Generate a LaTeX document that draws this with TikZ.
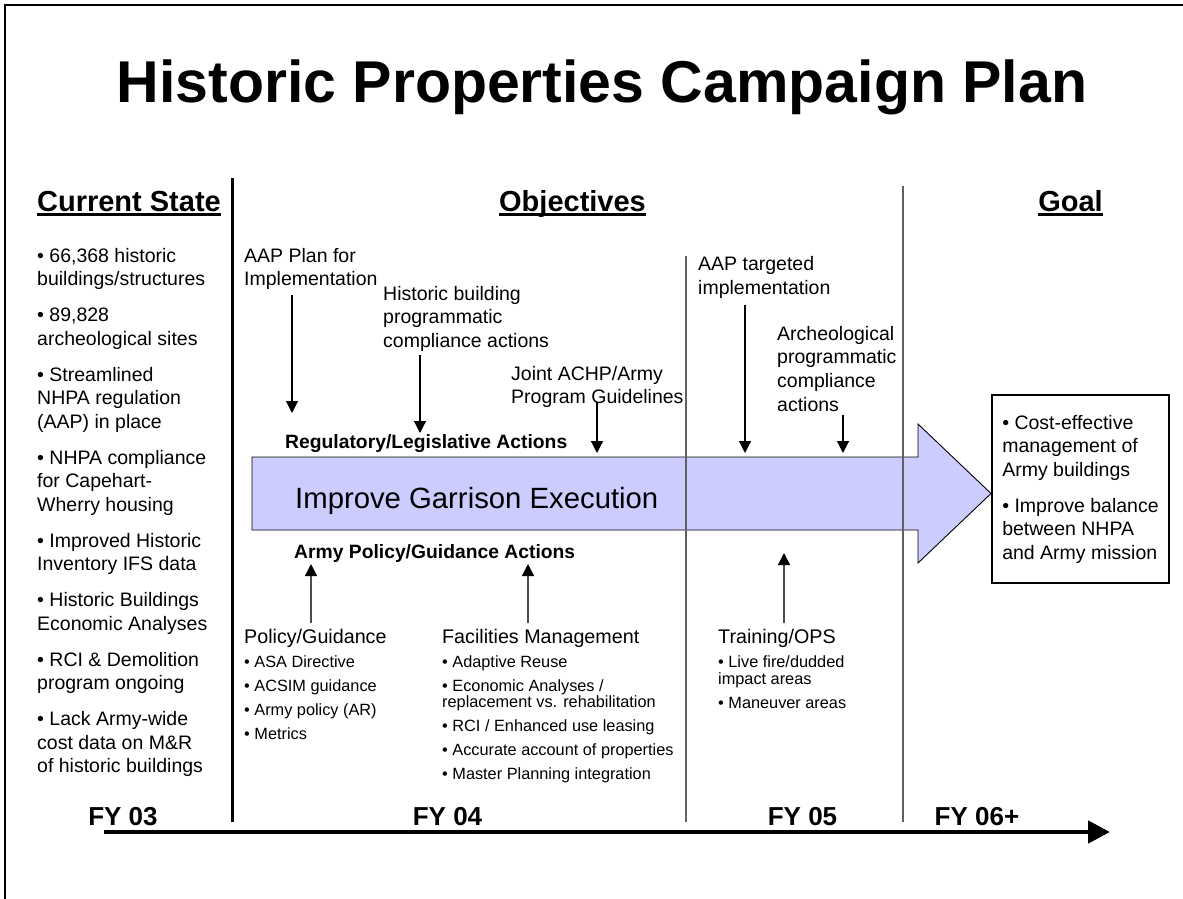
\documentclass[tikz,border=0pt]{standalone}
\usepackage{fontspec}
\setmainfont{Liberation Sans}
\usetikzlibrary{arrows.meta}
\definecolor{arrowfill}{HTML}{CCCCFF}
\definecolor{sepgray}{HTML}{606060}
\newcommand\fs[2]{\fontsize{#1}{#2}\selectfont}
\newcommand\ml[2]{\vtop{\baselineskip=#1\lineskiplimit=-100pt\lineskip=0pt\halign{##\hfil\cr#2\crcr}}}
\newcommand\gap[1]{\noalign{\vskip#1}}
\newcommand\myul[1]{\setbox0\hbox{#1}\hbox to\wd0{\rlap{\vrule width\wd0 height -2pt depth 5pt}\box0}}
\tikzset{
  txt/.style={anchor=base west, inner sep=0pt, font=\fs{19.5}{23.5}},
  smalltxt/.style={anchor=base west, inner sep=0pt, font=\fs{16.3}{24}},
  hdr/.style={anchor=base, inner sep=0pt, font=\bfseries\fs{29}{34}},
  fylbl/.style={anchor=base, inner sep=0pt, font=\bfseries\fs{26}{30}},
  actlbl/.style={anchor=base west, inner sep=0pt, font=\bfseries\fs{19.3}{23}},
  dnarrow/.style={-{Triangle[length=12pt,width=12pt]}, line width=1.2pt},
  uparrow/.style={-{Triangle[length=12pt,width=12pt,color=black]}, line width=1.3pt, draw=black!70},
  sepline/.style={line width=1.5pt, draw=sepgray},
  bigarrow/.style={draw=black, line width=0.9pt, fill=arrowfill},
}
\begin{document}
\begin{tikzpicture}[x=1pt,y=-1pt]
\useasboundingbox (0,0) rectangle (1183,899);
% frame
\draw[line width=2.5pt] (5,899) -- (5,5) -- (1183,5);
% title
\node[anchor=base, inner sep=0pt, font=\bfseries\fs{59}{70}] (title) at (602,102) {Historic Properties Campaign Plan};
% headers
\node[hdr] (hcs) at (129,211) {\myul{Current State}};
\node[hdr] (hobj) at (572.5,211) {\myul{Objectives}};
\node[hdr] (hgoal) at (1070.5,211) {\myul{Goal}};
% current state list
\node[txt] (cs) at (37,262) {\ml{23.5pt}{%
• 66,368 historic\cr buildings/structures\cr\gap{12.5pt}%
• 89,828\cr archeological sites\cr\gap{12.5pt}%
• Streamlined\cr NHPA regulation\cr (AAP) in place\cr\gap{12.5pt}%
• NHPA compliance\cr for Capehart-\cr Wherry housing\cr\gap{12.5pt}%
• Improved Historic\cr Inventory IFS data\cr\gap{12.5pt}%
• Historic Buildings\cr Economic Analyses\cr\gap{12.5pt}%
• RCI \& Demolition\cr program ongoing\cr\gap{12.5pt}%
• Lack Army-wide\cr cost data on M\&R\cr of historic buildings}};
% big arrow
\draw[bigarrow] (252,457) -- (918,457) -- (918,424) -- (991,493.5) -- (918,563) -- (918,530) -- (252,530) -- cycle;
\node[anchor=base west, inner sep=0pt, font=\fs{29.3}{34}] (ige) at (295,508) {Improve Garrison Execution};
% separators
\draw[line width=3pt] (232,178) -- (232,822);
\draw[sepline] (686,256) -- (686,822);
\draw[sepline] (903,186) -- (903,822);
% action labels
\node[actlbl] (reg) at (285,448) {Regulatory/Legislative Actions};
\node[actlbl] (pol) at (294,558) {Army Policy/Guidance Actions};
% top labels
\node[txt] (aapplan) at (244,262) {\ml{23.5pt}{AAP Plan for\cr Implementation}};
\node[txt] (hbpc) at (383,300) {\ml{23.5pt}{Historic building\cr programmatic\cr compliance actions}};
\node[txt] (joint) at (511,380) {\ml{23pt}{Joint ACHP/Army\cr Program Guidelines}};
\node[txt] (aapt) at (698,270) {\ml{24pt}{AAP targeted\cr implementation}};
\node[txt] (arch) at (777,340) {\ml{23.7pt}{Archeological\cr programmatic\cr compliance\cr actions}};
% down arrows
\coordinate (d1s) at (292,295); \coordinate (d1e) at (292,413);
\coordinate (d2s) at (420,355); \coordinate (d2e) at (420,433);
\coordinate (d3s) at (597,402); \coordinate (d3e) at (597,453);
\coordinate (d4s) at (745,305); \coordinate (d4e) at (745,453);
\coordinate (d5s) at (843,415); \coordinate (d5e) at (843,453);
\draw[dnarrow] (d1s) -- (d1e);
\draw[dnarrow] (d2s) -- (d2e);
\draw[dnarrow] (d3s) -- (d3e);
\draw[dnarrow] (d4s) -- (d4e);
\draw[dnarrow] (d5s) -- (d5e);
% bottom groups
\node[smalltxt] (pg) at (244,643) {\ml{24pt}{{\fs{19.7}{24}Policy/Guidance}\cr
• ASA Directive\cr • ACSIM guidance\cr • Army policy (AR)\cr • Metrics}};
\node[smalltxt] (fm) at (442,643) {\ml{24pt}{{\fs{19.7}{24}Facilities Management}\cr
• Adaptive Reuse\cr • Economic Analyses /\cr\gap{-8pt} replacement vs. rehabilitation\cr
• RCI / Enhanced use leasing\cr • Accurate account of properties\cr • Master Planning integration}};
\node[smalltxt] (tr) at (718,643) {\ml{24pt}{{\fs{19.7}{24}Training/OPS}\cr
• Live fire/dudded\cr\gap{-7pt} impact areas\cr • Maneuver areas}};
% up arrows
\coordinate (u1s) at (311,623); \coordinate (u1e) at (311,564);
\coordinate (u2s) at (528,623); \coordinate (u2e) at (528,564);
\coordinate (u3s) at (784,623); \coordinate (u3e) at (784,553);
\draw[uparrow] (u1s) -- (u1e);
\draw[uparrow] (u2s) -- (u2e);
\draw[uparrow] (u3s) -- (u3e);
% goal box
\node[draw, line width=1.1pt, minimum width=177pt, minimum height=188pt, inner sep=0pt, font=\fs{19.5}{23.5}] (goal) at (1080.5,489) {\ml{23.5pt}{%
• Cost-effective\cr management of\cr Army buildings\cr\gap{12.5pt}%
• Improve balance\cr between NHPA\cr and Army mission}};
% timeline
\coordinate (tl0) at (104,832); \coordinate (tl1) at (1110,832);
\draw[line width=4.7pt, -{Triangle[length=22pt,width=22pt]}] (tl0) -- (tl1);
\node[fylbl] (fy03) at (123,825) {FY 03};
\node[fylbl] (fy04) at (447.5,825) {FY 04};
\node[fylbl] (fy05) at (802.5,825) {FY 05};
\node[fylbl] (fy06) at (977,825) {FY 06+};
\end{tikzpicture}
\end{document}
